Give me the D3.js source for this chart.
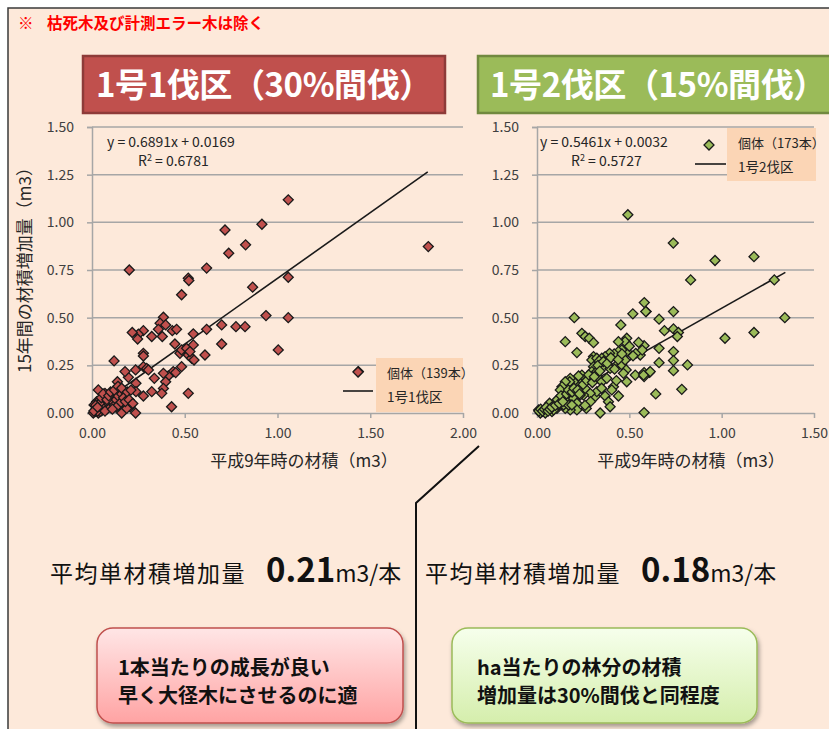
<!DOCTYPE html>
<html><head><meta charset="utf-8">
<script src="https://cdn.jsdelivr.net/npm/d3@7"></script>
<style>body{margin:0;background:#fff;} svg{display:block;}</style>
</head><body>
<svg id="c" width="829" height="729"></svg>
<script>
// ---- data ----
const yTicks = [0, 0.25, 0.5, 0.75, 1.0, 1.25, 1.5];
const xTicks1 = [0, 0.5, 1.0, 1.5, 2.0];
const xTicks2 = [0, 0.5, 1.0, 1.5];
const trend1 = {slope: 0.6891, intercept: 0.0169, xmax: 1.81, r2: 0.6781};
const trend2 = {slope: 0.5461, intercept: 0.0032, xmax: 1.345, r2: 0.5727};
// 1号1伐区 (30%間伐) : [平成9年時の材積, 15年間の材積増加量]
const plot1 = [
 [0.201,0.75],[0.483,0.62],[0.519,0.707],[0.522,0.695],[0.618,0.76],[0.717,0.96],[0.737,0.838],[0.828,0.882],
 [0.916,0.99],[1.058,1.118],[1.813,0.873],[0.866,0.66],[1.058,0.712],[0.938,0.511],[1.058,0.50],[0.776,0.453],
 [0.825,0.453],[1.004,0.331],[1.436,0.217],
 [0.385,0.502],[0.367,0.471],[0.397,0.462],[0.358,0.439],[0.379,0.401],[0.322,0.401],[0.277,0.432],[0.250,0.413],
 [0.217,0.422],[0.246,0.388],[0.433,0.432],[0.456,0.439],[0.447,0.362],[0.474,0.313],[0.483,0.331],[0.510,0.339],
 [0.519,0.304],[0.546,0.357],[0.546,0.415],[0.537,0.287],[0.55,0.278],[0.528,0.322],[0.618,0.439],[0.609,0.304],
 [0.699,0.462],[0.699,0.362],[0.519,0.103],[0.483,0.243],[0.438,0.217],[0.451,0.212],[0.411,0.194],[0.385,0.208],
 [0.397,0.164],[0.385,0.129],[0.376,0.103],[0.336,0.182],[0.322,0.112],[0.277,0.089],[0.277,0.313],[0.277,0.299],
 [0.277,0.243],[0.295,0.234],[0.304,0.226],[0.235,0.226],[0.237,0.156],[0.237,0.112],[0.196,0.187],[0.178,0.217],
 [0.119,0.273],[0.137,0.164],[0.142,0.138],[0.133,0.121],[0.124,0.103],[0.151,0.086],[0.178,0.077],[0.196,0.051],
 [0.205,0.033],[0.160,0.0],[0.235,0.0],[0.429,0.033],[0.115,0.077],[0.097,0.059],[0.079,0.042],[0.061,0.086],
 [0.034,0.121],[0.025,0.059],[0.043,0.033],[0.016,0.007],[0.007,0.0],[0.034,0.0],[0.052,0.012],[0.070,0.016],
 [0.088,0.033],[0.106,0.024],[0.061,0.051],[0.079,0.068],[0.124,0.051],[0.142,0.042],[0.160,0.068],[0.172,0.051],
 [0.187,0.024],[0.043,0.007],[0.025,0.019],[0.011,0.042],[0.043,0.068],[0.07,0.103],[0.097,0.086],
 [0.02,0.02],[0.03,0.01],[0.05,0.03],[0.06,0.02],[0.07,0.04],[0.08,0.02],[0.09,0.05],[0.10,0.03],[0.11,0.06],
 [0.12,0.04],[0.13,0.07],[0.14,0.09],[0.15,0.05],[0.16,0.10],[0.17,0.08],[0.18,0.06],[0.04,0.05],[0.05,0.08],
 [0.06,0.10],[0.08,0.07],[0.09,0.09],[0.10,0.11],[0.12,0.12],[0.13,0.03],[0.02,0.04],[0.01,0.01],[0.03,0.03],
 [0.07,0.01],[0.11,0.02],[0.14,0.14],[0.16,0.13],[0.19,0.11],[0.20,0.07],[0.22,0.05],[0.21,0.12]
];
// 1号2伐区 (15%間伐)
const plot2 = [
 [0.492,1.04],[0.738,0.891],[0.964,0.80],[1.175,0.82],[0.832,0.698],[1.285,0.698],
 [0.581,0.579],[0.591,0.532],[0.739,0.532],[0.661,0.492],[1.342,0.50],[0.69,0.432],[0.739,0.441],[0.766,0.422],
 [0.76,0.401],[1.018,0.392],[1.175,0.422],[0.58,0.353],[0.559,0.304],[0.661,0.339],[0.739,0.322],[0.739,0.275],
 [0.661,0.264],[0.815,0.252],[0.739,0.222],[0.58,0.212],[0.609,0.213],[0.58,0.191],[0.643,0.10],[0.784,0.124],
 [0.58,0.002],
 [0.202,0.50],[0.153,0.374],[0.216,0.317],[0.243,0.418],[0.261,0.401],[0.283,0.392],[0.306,0.369],[0.306,0.296],
 [0.297,0.278],[0.324,0.287],[0.454,0.462],[0.486,0.392],[0.477,0.374],[0.441,0.374],[0.519,0.52],[0.589,0.532],
 [0.535,0.313],[0.486,0.322],[0.459,0.331],[0.441,0.322],[0.418,0.310],[0.393,0.313],[0.369,0.296],[0.351,0.287],
 [0.337,0.273],[0.36,0.243],[0.306,0.243],[0.297,0.217],[0.324,0.217],[0.333,0.182],[0.351,0.164],[0.378,0.182],
 [0.396,0.234],[0.432,0.252],[0.459,0.252],[0.477,0.278],[0.483,0.226],[0.486,0.164],[0.468,0.208],[0.532,0.199],
 [0.577,0.199],[0.613,0.217],[0.414,0.138],[0.405,0.121],[0.441,0.089],[0.369,0.089],[0.387,0.059],[0.396,0.033],
 [0.342,0.0],[0.315,0.086],[0.324,0.112],[0.288,0.103],[0.252,0.094],[0.261,0.129],[0.234,0.147],[0.216,0.156],
 [0.207,0.173],[0.18,0.182],[0.177,0.164],[0.153,0.164],[0.135,0.138],[0.126,0.121],[0.153,0.086],[0.18,0.068],
 [0.198,0.077],[0.216,0.051],[0.234,0.094],[0.234,0.182],[0.243,0.199],[0.225,0.194],[0.267,0.024],[0.216,0.016],
 [0.18,0.016],[0.153,0.024],[0.108,0.024],[0.117,0.042],[0.09,0.042],[0.072,0.033],[0.054,0.016],[0.027,0.007],
 [0.009,0.016],[0.018,0.0],[0.045,0.0],[0.081,0.007],[0.126,0.059],[0.144,0.042],[0.099,0.059],[0.068,0.051],
 [0.135,0.086],[0.171,0.042],[0.189,0.042],[0.09,0.016],
 [0.01,0.01],[0.02,0.02],[0.03,0.01],[0.04,0.02],[0.05,0.03],[0.06,0.01],[0.07,0.02],[0.08,0.03],[0.10,0.04],
 [0.11,0.07],[0.12,0.05],[0.13,0.09],[0.14,0.06],[0.16,0.10],[0.17,0.12],[0.19,0.11],[0.20,0.13],[0.22,0.12],
 [0.23,0.10],[0.25,0.15],[0.27,0.17],[0.28,0.20],[0.30,0.16],[0.31,0.19],[0.33,0.25],[0.34,0.22],[0.36,0.27],
 [0.38,0.26],[0.40,0.29],[0.42,0.23],[0.44,0.28],[0.46,0.31],[0.50,0.35],[0.52,0.30],[0.55,0.37],[0.57,0.33],
 [0.29,0.06],[0.26,0.04],[0.35,0.13],[0.43,0.17]
];

// ---- drawing ----
const svg = d3.select("#c");
const FONT = "'Noto Sans CJK JP','Noto Sans',sans-serif";
const defs = svg.append("defs");
const gRed = defs.append("linearGradient").attr("id","gRed").attr("x1",0).attr("y1",0).attr("x2",0).attr("y2",1);
gRed.append("stop").attr("offset","0%").attr("stop-color","#FFE6E6");
gRed.append("stop").attr("offset","100%").attr("stop-color","#FFA3A3");
const gGreen = defs.append("linearGradient").attr("id","gGreen").attr("x1",0).attr("y1",0).attr("x2",0).attr("y2",1);
gGreen.append("stop").attr("offset","0%").attr("stop-color","#F6FFEC");
gGreen.append("stop").attr("offset","100%").attr("stop-color","#D5EEAC");
const sh = defs.append("filter").attr("id","sh").attr("x","-10%").attr("y","-10%").attr("width","130%").attr("height","140%");
sh.append("feDropShadow").attr("dx",1.5).attr("dy",3).attr("stdDeviation",2).attr("flood-color","#000").attr("flood-opacity",0.35);

// frame
svg.append("rect").attr("x",8).attr("y",8).attr("width",900).attr("height",800)
  .attr("fill","#FDE9DA").attr("stroke","#3a3a3a").attr("stroke-width",1.5);

const note0 = svg.append("text").attr("y",29).attr("fill","#FF0000").attr("font-family",FONT)
  .attr("font-size",15.5).attr("font-weight","bold");
note0.append("tspan").attr("x",18).text("※");
note0.append("tspan").attr("x",47).text("枯死木及び計測エラー木は除く");

// title boxes
function titleBox(x, w, fill, stroke, label, tx){
  svg.append("rect").attr("x",x).attr("y",56).attr("width",w).attr("height",57)
    .attr("fill",fill).attr("stroke",stroke).attr("stroke-width",2.5);
  svg.append("text").attr("x",tx).attr("y",97).attr("fill","#fff").attr("font-family",FONT)
    .attr("font-size",33).attr("font-weight","bold").attr("letter-spacing",-0.4).text(label);
}
titleBox(83, 362, "#C0504D", "#8E3B39", "1号1伐区（30%間伐）", 96);
titleBox(478, 380, "#9BBB59", "#71893F", "1号2伐区（15%間伐）", 490);

const y = d3.scaleLinear().domain([0,1.5]).range([413,127]);
const diamond = d3.symbol().type(d3.symbolSquare).size(50);

function panel(cfg){
  const x = d3.scaleLinear().domain(cfg.domain).range(cfg.range);
  const g = svg.append("g");
  // gridlines
  g.selectAll(".grid").data(yTicks.filter(t=>t>0)).join("line")
    .attr("x1",cfg.range[0]).attr("x2",cfg.range[1]).attr("y1",d=>y(d)).attr("y2",d=>y(d))
    .attr("stroke","#A6A6A6").attr("stroke-width",1.5);
  // y axis
  const ya = g.append("g").attr("transform",`translate(${cfg.range[0]},0)`)
    .call(d3.axisLeft(y).tickValues(yTicks).tickFormat(d3.format(".2f")).tickSize(5).tickPadding(13));
  ya.select(".domain").attr("stroke","#A6A6A6").attr("stroke-width",1.5);
  ya.selectAll(".tick line").attr("stroke","#A6A6A6").attr("stroke-width",1.5);
  ya.selectAll("text").attr("font-family",FONT).attr("font-size",14).attr("fill","#404040");
  // x axis
  const xa = g.append("g").attr("transform",`translate(0,${y(0)})`)
    .call(d3.axisBottom(x).tickValues(cfg.ticks).tickFormat(d3.format(".2f")).tickSizeInner(5).tickSizeOuter(0).tickPadding(10));
  xa.select(".domain").attr("stroke","#A6A6A6").attr("stroke-width",1.5);
  xa.selectAll(".tick line").attr("stroke","#A6A6A6").attr("stroke-width",1.5);
  xa.selectAll("text").attr("font-family",FONT).attr("font-size",14).attr("fill","#404040");
  // legend box
  const L = cfg.legend;
  g.append("rect").attr("x",L.x).attr("y",L.y).attr("width",L.w).attr("height",L.h).attr("fill","#FBD5B5");
  // trend line
  const t = cfg.trend;
  g.append("line").attr("x1",x(0)).attr("y1",y(t.intercept)).attr("x2",x(t.xmax)).attr("y2",y(t.slope*t.xmax+t.intercept))
    .attr("stroke","#1a1a1a").attr("stroke-width",1.6);
  // points
  g.selectAll(".pt").data(cfg.data).join("path")
    .attr("d",diamond).attr("transform",d=>`translate(${x(d[0])},${y(d[1])}) rotate(45)`)
    .attr("fill",cfg.color).attr("stroke","#1a1a1a").attr("stroke-width",1.3);
  // legend contents
  g.append("path").attr("d",diamond).attr("transform",`translate(${L.mx},${L.my}) rotate(45)`)
    .attr("fill",cfg.color).attr("stroke","#1a1a1a").attr("stroke-width",1.3);
  g.append("line").attr("x1",L.lx1).attr("x2",L.lx2).attr("y1",L.ly).attr("y2",L.ly).attr("stroke","#1a1a1a").attr("stroke-width",1.6);
  g.append("text").attr("x",L.x+11).attr("y",L.y+20).attr("font-family",FONT).attr("font-size",13).attr("fill","#262626").text(L.t1);
  g.append("text").attr("x",L.x+11).attr("y",L.y+44).attr("font-family",FONT).attr("font-size",13.5).attr("fill","#262626").text(L.t2);
  // equation
  g.append("text").attr("x",cfg.eqx).attr("y",147).attr("font-family",FONT).attr("font-size",14).attr("fill","#262626")
    .text(`y = ${t.slope}x + ${t.intercept.toFixed(4)}`);
  const r = g.append("text").attr("x",cfg.eqx+31).attr("y",166).attr("font-family",FONT).attr("font-size",14).attr("fill","#262626");
  r.append("tspan").text("R");
  r.append("tspan").attr("dy",-5).attr("font-size",9).text("2");
  r.append("tspan").attr("dy",5).text(` = ${t.r2}`);
  // x title
  g.append("text").attr("x",cfg.xtx).attr("y",467).attr("text-anchor","middle").attr("font-family",FONT)
    .attr("font-size",17).attr("fill","#262626").text("平成9年時の材積（m3）");
}

panel({domain:[0,2], range:[92,463], ticks:xTicks1, data:plot1, color:"#C0504D", trend:trend1, eqx:107,
  legend:{x:376,y:358,w:87,h:54,mx:358,my:372,lx1:343,lx2:373,ly:391,t1:"個体（139本）",t2:"1号1伐区"}, xtx:304});
panel({domain:[0,1.5], range:[537,814], ticks:xTicks2, data:plot2, color:"#9BBB59", trend:trend2, eqx:540,
  legend:{x:727,y:128,w:89,h:53,mx:709,my:145,lx1:695,lx2:726,ly:164,t1:"個体（173本）",t2:"1号2伐区"}, xtx:691});

// y axis title
svg.append("text").attr("transform","translate(31,266) rotate(-90)").attr("text-anchor","middle")
  .attr("font-family",FONT).attr("font-size",17).attr("fill","#262626").text("15年間の材積増加量（m3）");

// divider line
svg.append("path").attr("d",d3.line()([[479,446],[416,503],[416,735]])).attr("fill","none").attr("stroke","#111").attr("stroke-width",2);

// average texts
function avg(x, val){
  const t = svg.append("text").attr("x",x).attr("y",582).attr("font-family",FONT).attr("fill","#111");
  t.append("tspan").attr("font-size",23).attr("letter-spacing",1.5).text("平均単材積増加量");
  t.append("tspan").attr("dx",20).attr("font-size",33).attr("font-weight","bold").text(val);
  t.append("tspan").attr("font-size",23).text("m3/本");
}
avg(50, "0.21");
avg(425, "0.18");

// note boxes
function note(x, w, fill, stroke, l1, l2, tx){
  svg.append("rect").attr("x",x).attr("y",628).attr("width",w).attr("height",95).attr("rx",16)
    .attr("fill",`url(#${fill})`).attr("stroke",stroke).attr("stroke-width",1.5).attr("filter","url(#sh)");
  svg.append("text").attr("x",tx).attr("y",675).attr("font-family",FONT).attr("font-size",20).attr("font-weight","bold").attr("fill","#111").text(l1);
  svg.append("text").attr("x",tx).attr("y",703).attr("font-family",FONT).attr("font-size",20).attr("font-weight","bold").attr("fill","#111").text(l2);
}
note(97, 306, "gRed", "#C0504D", "1本当たりの成長が良い", "早く大径木にさせるのに適", 118);
note(452, 305, "gGreen", "#9BBB59", "ha当たりの林分の材積", "増加量は30%間伐と同程度", 477);
</script>
</body></html>
